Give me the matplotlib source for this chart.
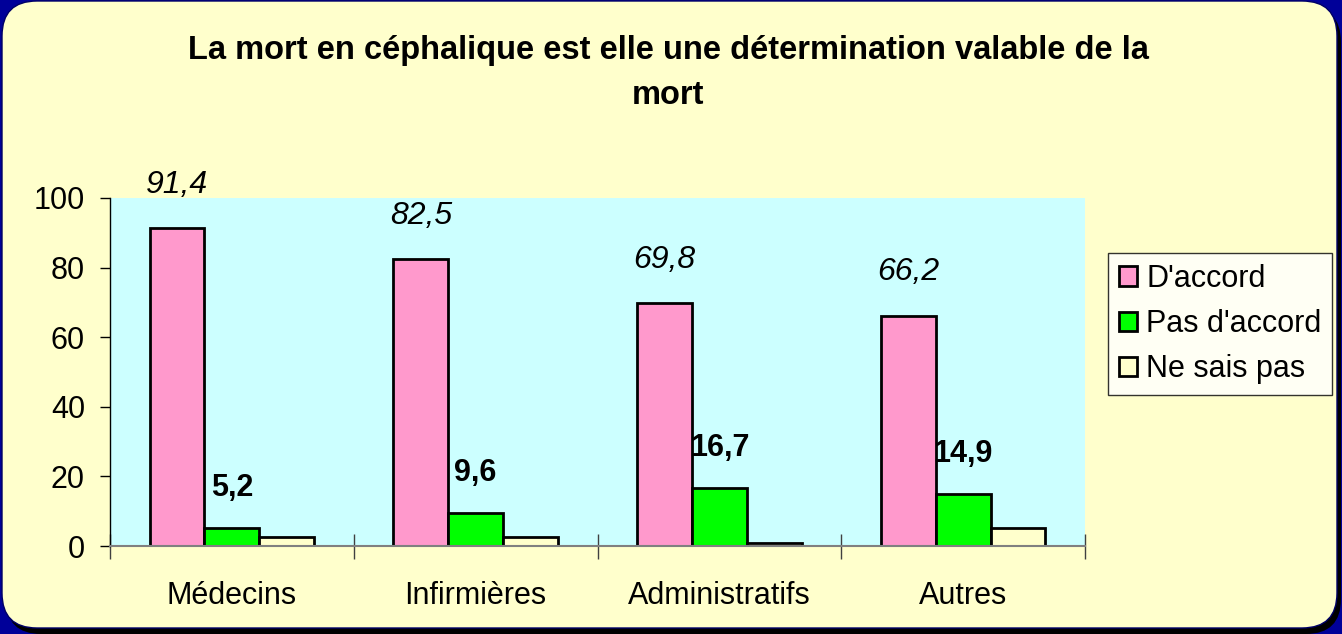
import matplotlib
matplotlib.use('Agg')
from matplotlib import pyplot as plt
from matplotlib.patches import FancyBboxPatch
import numpy as np

plt.rcParams['font.family'] = ['Liberation Sans', 'DejaVu Sans']

categories = ['Médecins', 'Infirmières', 'Administratifs', 'Autres']
d_accord = [91.4, 82.5, 69.8, 66.2]
pas_d_accord = [5.2, 9.6, 16.7, 14.9]
ne_sais_pas = [2.6, 2.6, 0.9, 5.2]
series_names = ["D'accord", "Pas d'accord", "Ne sais pas"]

fig = plt.figure(figsize=(13.42, 6.34), dpi=100)
fig.patch.set_facecolor('#000099')

# rounded panel with shadow (inch units)
shadow = FancyBboxPatch((0.06, 0.0), 13.35, 6.27,
                        boxstyle='round,pad=0,rounding_size=0.35',
                        transform=fig.dpi_scale_trans, facecolor='black',
                        edgecolor='none', zorder=0)
panel = FancyBboxPatch((0.02, 0.06), 13.35, 6.27,
                       boxstyle='round,pad=0,rounding_size=0.35',
                       transform=fig.dpi_scale_trans, facecolor='#FFFFCC',
                       edgecolor='#000066', linewidth=1, zorder=1)
fig.patches.extend([shadow, panel])

ax = fig.add_axes([110/1342, (634-546)/634, 975/1342, 348/634])
ax.set_facecolor('#CCFFFF')
ax.set_zorder(2)

x = np.arange(len(categories))
w = 0.225
b1 = ax.bar(x - w, d_accord, w, color='#FF99CC', edgecolor='black', linewidth=2, label=series_names[0])
b2 = ax.bar(x, pas_d_accord, w, color='#00FF00', edgecolor='black', linewidth=2, label=series_names[1])
b3 = ax.bar(x + w, ne_sais_pas, w, color='#FFFFCC', edgecolor='black', linewidth=2, label=series_names[2])

for xi, v in zip(x, d_accord):
    ax.text(xi - w, v + 12.4, f'{v}'.replace('.', ','), ha='center', va='center',
            fontsize=23, style='italic', clip_on=False)
for xi, v in zip(x, pas_d_accord):
    ax.text(xi, v + 11.5, f'{v}'.replace('.', ','), ha='center', va='center',
            fontsize=22, fontweight='bold', clip_on=False)

ax.set_xlim(-0.5, 3.5)
ax.set_ylim(0, 100)
ax.set_yticks([0, 20, 40, 60, 80, 100])
ax.tick_params(axis='y', labelsize=22, length=7, width=1, direction='out', pad=11)
ax.set_xticks(x)
ax.set_xticklabels(categories, fontsize=22)
ax.tick_params(axis='x', length=0, pad=25)
ax.set_xticks(np.arange(-0.5, 4.0, 1.0), minor=True)
ax.tick_params(axis='x', which='minor', length=18, width=1, direction='inout', color='#404040')
for s in ['top', 'right']:
    ax.spines[s].set_visible(False)
ax.spines['left'].set_linewidth(1)
ax.spines['bottom'].set_color('#808080')
ax.spines['bottom'].set_linewidth(1.5)

fig.text(668/1342, 1 - 50/634, 'La mort en céphalique est elle une détermination valable de la',
         ha='center', va='center', fontsize=23.5, fontweight='bold', zorder=3)
fig.text(668/1342, 1 - 96/634, 'mort', ha='center', va='center', fontsize=23.5,
         fontweight='bold', zorder=3)

leg = fig.legend(handles=[b1, b2, b3], loc='upper left',
                 bbox_to_anchor=(1108/1342, 1 - 253/634), fontsize=22,
                 frameon=True, fancybox=False, edgecolor='black',
                 handlelength=0.6, handleheight=0.6, handletextpad=0.3,
                 borderpad=0.35, borderaxespad=0, labelspacing=0.5)
leg.get_frame().set_linewidth(1)
leg.set_zorder(3)

fig.savefig('out.png', dpi=100, facecolor=fig.get_facecolor())
